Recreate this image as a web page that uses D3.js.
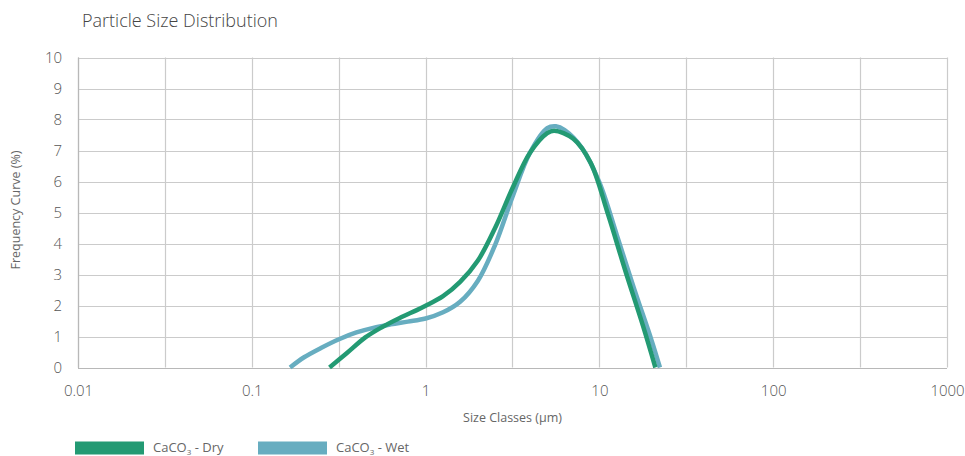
<!DOCTYPE html>
<html>
<head>
<meta charset="utf-8">
<script src="https://cdn.jsdelivr.net/npm/d3@7"></script>
<style>
  html, body { margin: 0; padding: 0; background: #fff; }
  svg { display: block; font-family: "Open Sans", "Noto Sans", sans-serif; }
</style>
</head>
<body>
<svg id="chart" width="965" height="456"></svg>
<script>
// ---- Data ----
const title = "Particle Size Distribution";
const xTitle = "Size Classes (μm)";
const yTitle = "Frequency Curve (%)";
const xTickValues = [0.01, 0.1, 1, 10, 100, 1000];
const xTickLabels = ["0.01", "0.1", "1", "10", "100", "1000"];
const xGridValues = [0.01, 0.0316, 0.1, 0.316, 1, 3.16, 10, 31.6, 100, 316, 1000];
const yTickValues = [0, 1, 2, 3, 4, 5, 6, 7, 8, 9, 10];

const drySizes = [0.28, 0.35, 0.45, 0.56, 0.71, 0.89, 1.0, 1.26, 1.58, 2.0, 2.51, 3.16, 3.98, 5.01, 5.5, 7.08, 8.91, 11.2, 14.1, 17.8, 21];
const dryValues = [0, 0.45, 0.97, 1.3, 1.6, 1.85, 1.99, 2.3, 2.76, 3.45, 4.5, 5.78, 6.92, 7.56, 7.64, 7.38, 6.6, 4.95, 3.12, 1.35, 0];

const wetSizes = [0.166, 0.2, 0.25, 0.32, 0.4, 0.5, 0.63, 0.79, 1.0, 1.26, 1.58, 2.0, 2.51, 3.16, 3.98, 5.01, 5.62, 6.31, 7.94, 10, 12.6, 15.8, 20, 22.3];
const wetValues = [0, 0.33, 0.63, 0.92, 1.13, 1.28, 1.39, 1.48, 1.58, 1.78, 2.12, 2.8, 3.95, 5.5, 6.92, 7.72, 7.78, 7.66, 7.08, 5.97, 4.27, 2.56, 0.86, 0];

const seriesNames = ["CaCO", "CaCO"];
const seriesSuffix = [" - Dry", " - Wet"];
const seriesColors = ["#239a73", "#67adc0"];

// ---- Layout ----
const svg = d3.select("#chart");
const mLeft = 78, mRight = 947, mTop = 57.5, mBottom = 367.5;

const x = d3.scaleLog().domain([0.01, 1000]).range([mLeft, mRight]);
const y = d3.scaleLinear().domain([0, 10]).range([mBottom, mTop]);

// Title
svg.append("text")
  .attr("x", 82).attr("y", 26.5)
  .attr("font-size", 18).attr("font-weight", 300).attr("fill", "#444")
  .text(title);

// Gridlines
const grid = svg.append("g");
grid.selectAll("line.h").data(yTickValues).enter().append("line")
  .attr("x1", mLeft).attr("x2", mRight)
  .attr("y1", d => Math.round(y(d)) + 0.5).attr("y2", d => Math.round(y(d)) + 0.5)
  .attr("stroke", "#cbcbcb").attr("stroke-width", 1.2);
grid.selectAll("line.v").data(xGridValues).enter().append("line")
  .attr("x1", d => Math.round(x(d)) + 0.5).attr("x2", d => Math.round(x(d)) + 0.5)
  .attr("y1", mTop).attr("y2", mBottom)
  .attr("stroke", "#cbcbcb").attr("stroke-width", 1.2);

// Axis lines
svg.append("line").attr("x1", mLeft + 0.5).attr("x2", mLeft + 0.5).attr("y1", mTop).attr("y2", mBottom + 0.5)
  .attr("stroke", "#b8b8b8").attr("stroke-width", 1.2);
svg.append("line").attr("x1", mLeft).attr("x2", mRight).attr("y1", Math.round(mBottom) + 0.5).attr("y2", Math.round(mBottom) + 0.5)
  .attr("stroke", "#b8b8b8").attr("stroke-width", 1.2);

// Y tick labels
const yAxis = d3.axisLeft(y).tickValues(yTickValues).tickSize(0).tickPadding(16).tickFormat(d3.format("d"));
const gy = svg.append("g").attr("transform", `translate(${mLeft},0)`).call(yAxis);
gy.select(".domain").remove();
gy.selectAll("text").attr("font-size", 15).attr("font-weight", 300).attr("fill", "#555").attr("font-family", "Open Sans, sans-serif");

// X tick labels
const xAxis = d3.axisBottom(x).tickValues(xTickValues).tickSize(0).tickPadding(18)
  .tickFormat((d, i) => xTickLabels[i]);
const gx = svg.append("g").attr("transform", `translate(0,${mBottom})`).call(xAxis);
gx.select(".domain").remove();
gx.selectAll("text").attr("font-size", 15).attr("font-weight", 300).attr("fill", "#555").attr("font-family", "Open Sans, sans-serif");

// Axis titles
svg.append("text")
  .attr("x", (mLeft + mRight) / 2).attr("y", 422)
  .attr("text-anchor", "middle").attr("font-size", 12.5).attr("fill", "#666")
  .text(xTitle);
svg.append("text")
  .attr("transform", "translate(20,210) rotate(-90)")
  .attr("text-anchor", "middle").attr("font-size", 12.5).attr("fill", "#666")
  .text(yTitle);

// Curves
const line = d3.line()
  .x(d => x(d[0])).y(d => y(d[1]))
  .curve(d3.curveCatmullRom.alpha(0.5));

const wetData = wetSizes.map((s, i) => [s, wetValues[i]]);
const dryData = drySizes.map((s, i) => [s, dryValues[i]]);

svg.append("path").datum(wetData)
  .attr("d", line).attr("fill", "none")
  .attr("stroke", seriesColors[1]).attr("stroke-width", 4.5)
  .attr("stroke-linejoin", "round");
svg.append("path").datum(dryData)
  .attr("d", line).attr("fill", "none")
  .attr("stroke", seriesColors[0]).attr("stroke-width", 4.5)
  .attr("stroke-linejoin", "round");

// Legend
const legendX = [75, 258];
const legend = svg.append("g");
seriesColors.forEach((c, i) => {
  legend.append("rect")
    .attr("x", legendX[i]).attr("y", 441.5).attr("width", 69).attr("height", 13)
    .attr("fill", c);
  const t = legend.append("text")
    .attr("x", legendX[i] + 78).attr("y", 452)
    .attr("font-size", 13).attr("fill", "#666");
  t.append("tspan").text(seriesNames[i]);
  t.append("tspan").attr("font-size", 8).attr("dy", 2.5).text("3");
  t.append("tspan").attr("dy", -2.5).text(seriesSuffix[i]);
});
</script>
</body>
</html>
